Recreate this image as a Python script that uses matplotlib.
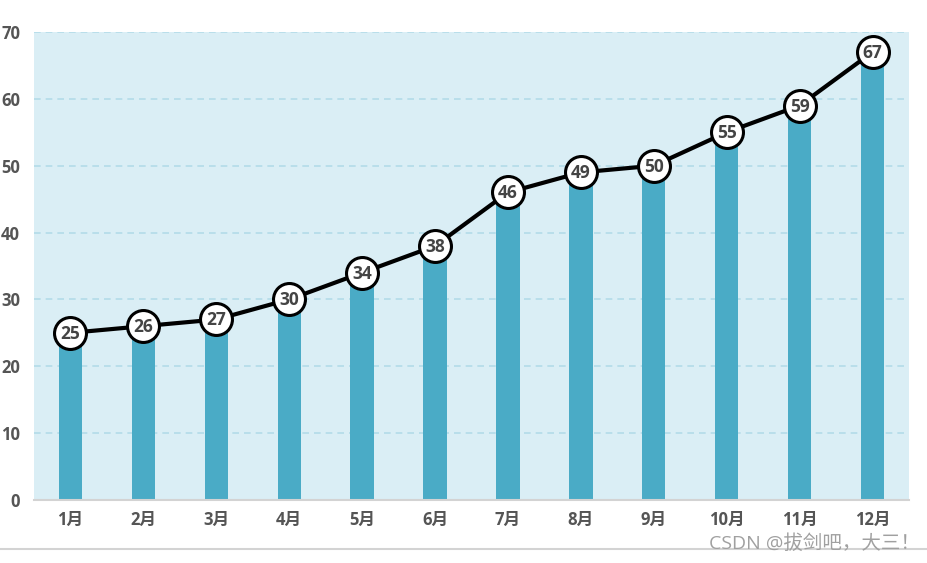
import matplotlib.pyplot as plt
from matplotlib.lines import Line2D

plt.rcParams['font.family'] = ['Open Sans', 'Noto Sans CJK SC', 'DejaVu Sans']

months = ['1月', '2月', '3月', '4月', '5月', '6月', '7月', '8月', '9月', '10月', '11月', '12月']
values = [25, 26, 27, 30, 34, 38, 46, 49, 50, 55, 59, 67]
y_ticks = [0, 10, 20, 30, 40, 50, 60, 70]

fig = plt.figure(figsize=(9.27, 5.63), dpi=100)
ax = fig.add_axes([34 / 927, 63 / 563, 875 / 927, 468 / 563])
ax.set_facecolor('#daeef5')

x = list(range(len(months)))
ax.bar(x, values, width=0.32, color='#4aabc6', zorder=2)
ax.plot(x, values, color='black', lw=3, zorder=3,
        marker='o', markersize=23, markerfacecolor='white',
        markeredgecolor='black', markeredgewidth=2.2)
for xi, v in zip(x, values):
    ax.text(xi, v - 0.15, str(v), ha='center', va='center', fontsize=12.5,
            fontweight='bold', color='#444444', zorder=4)

ax.set_xlim(-0.5, len(months) - 0.5)
ax.set_ylim(0, 70)
ax.set_yticks(y_ticks)
ax.set_xticks(x)
ax.set_xticklabels(months)
ax.yaxis.grid(True, color='#b3dbe8', linestyle=(0, (4, 3)), lw=1.2, zorder=1)
ax.set_axisbelow(True)
for s in ['top', 'right', 'left']:
    ax.spines[s].set_visible(False)
ax.spines['bottom'].set_color('#d3d3d3')
ax.spines['bottom'].set_linewidth(1.5)
ax.tick_params(length=0, labelsize=12, labelcolor='#555555', pad=8)
ax.tick_params(axis='y', pad=10)
for lab in ax.get_xticklabels() + ax.get_yticklabels():
    lab.set_fontweight('bold')

fig.add_artist(Line2D([0, 1], [14 / 563, 14 / 563], color='#d3d3d3', lw=1.5))
fig.text(920 / 927, 19 / 563, 'CSDN @拔剑吧，大三！', ha='right', va='center',
         fontsize=14, color='#a0a0a0')

fig.savefig('out.png', dpi=100)
